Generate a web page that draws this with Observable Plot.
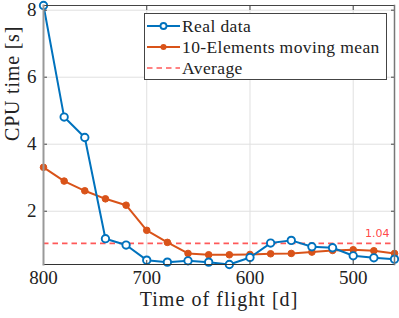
<!DOCTYPE html>
<html><head><meta charset="utf-8">
<script src="https://cdn.jsdelivr.net/npm/d3@7"></script>
<script src="https://cdn.jsdelivr.net/npm/@observablehq/plot@0.6"></script>
<style>
body{margin:0;background:#fff;}
#wrap{position:relative;width:399px;height:318px;font-family:"Liberation Serif",serif;}
#legend{position:absolute;left:144px;top:13px;width:243px;height:67px;border:1px solid #444;background:#fff;box-sizing:border-box;font-size:17.5px;letter-spacing:0.4px;color:#222;}
.row{position:absolute;left:1px;height:20px;display:flex;align-items:center;white-space:nowrap;}
.row svg{margin-right:1px;}
</style></head><body>
<div id="wrap"></div>
<script>
const flight = [800,780,760,740,720,700,680,660,640,620,600,580,560,540,520,500,480,460];
const realData = [8.14,4.81,4.20,1.18,0.99,0.54,0.48,0.52,0.48,0.41,0.62,1.05,1.13,0.94,0.91,0.67,0.61,0.57];
const movMean = [3.31,2.90,2.61,2.37,2.18,1.43,1.07,0.74,0.70,0.70,0.71,0.73,0.74,0.78,0.83,0.85,0.82,0.74];
const average = 1.04;
const xTicks = [800,700,600,500];
const yTicks = [2,4,6,8];
const seriesNames = ["Real data","10-Elements moving mean","Average"];
const xLabel = "Time of flight [d]";
const yLabel = "CPU time [s]";

const blue="#0072BD", orange="#D95319", red="#FF3030";
const rows = flight.map((f,i)=>({f, r:realData[i], m:movMean[i]}));
const font = "Liberation Serif, serif";

const chart = Plot.plot({
  width:399, height:318,
  marginLeft:43, marginRight:5, marginTop:5, marginBottom:54,
  style:{fontFamily:font, fontSize:"19px", color:"#222", background:"#fff"},
  x:{domain:[800,460], ticks:xTicks, label:null},
  y:{domain:[0.41,8.14], ticks:yTicks, label:null},
  marks:[
    Plot.gridX(xTicks,{stroke:"#e0e0e0", strokeOpacity:1}),
    Plot.gridY(yTicks,{stroke:"#e0e0e0", strokeOpacity:1}),
    Plot.ruleY([average],{stroke:red, strokeWidth:1.6, strokeDasharray:"5.5,4", strokeOpacity:0.8}),
    Plot.text([average],{x:()=>460, y:d=>d, text:d=>d.toFixed(2), textAnchor:"end", dx:-5, dy:-10, fill:red, fillOpacity:0.9, fontFamily:"DejaVu Sans, sans-serif", fontSize:11}),
    Plot.line(rows,{x:"f", y:"m", stroke:orange, strokeWidth:2}),
    Plot.dot(rows,{x:"f", y:"m", fill:orange, r:3.3, stroke:orange, strokeWidth:1}),
    Plot.line(rows,{x:"f", y:"r", stroke:blue, strokeWidth:2}),
    Plot.dot(rows,{x:"f", y:"r", fill:"#fff", r:3.7, stroke:blue, strokeWidth:1.9}),
    Plot.axisX(xTicks,{anchor:"bottom", tickSize:0, tickPadding:6, fontSize:19, fill:"#222", label:null}),
    Plot.axisY(yTicks,{anchor:"left", tickSize:0, tickPadding:7, fontSize:19, fill:"#222", label:null}),
    Plot.axisX(xTicks,{anchor:"bottom", tickSize:-4, tickFormat:()=>"", stroke:"#444", label:null}),
    Plot.axisX(xTicks,{anchor:"top", tickSize:-4, tickFormat:()=>"", stroke:"#444", label:null}),
    Plot.axisY(yTicks,{anchor:"left", tickSize:-4, tickFormat:()=>"", stroke:"#444", label:null}),
    Plot.axisY(yTicks,{anchor:"right", tickSize:-4, tickFormat:()=>"", stroke:"#444", label:null}),
    Plot.frame({anchor:"top", stroke:"#444", strokeWidth:1}),
    Plot.frame({anchor:"bottom", stroke:"#333", strokeWidth:1.2}),
    Plot.frame({anchor:"left", stroke:"#999", strokeWidth:2}),
    Plot.frame({anchor:"right", stroke:"#777", strokeWidth:1.5}),
    Plot.text([xLabel],{frameAnchor:"bottom", text:d=>d, lineAnchor:"bottom", dy:41, fontSize:20, fill:"#222"}),
    Plot.text([yLabel],{frameAnchor:"left", text:d=>d, rotate:-90, lineAnchor:"middle", dx:-31, dy:6, fontSize:20, fill:"#222"})
  ]
});
const wrap = document.getElementById("wrap");
wrap.appendChild(chart);
d3.select(chart).selectAll("text").filter(function(){return this.textContent===xLabel;}).style("letter-spacing","1.05px");
d3.select(chart).selectAll("text").filter(function(){return this.textContent===yLabel;}).style("letter-spacing","0.8px");

const leg = document.createElement("div");
leg.id="legend";
const sw = [
  `<svg width="35" height="12"><line x1="1" y1="6" x2="34" y2="6" stroke="${blue}" stroke-width="2"/><circle cx="17.5" cy="6" r="3" fill="#fff" stroke="${blue}" stroke-width="1.8"/></svg>`,
  `<svg width="35" height="12"><line x1="1" y1="6" x2="34" y2="6" stroke="${orange}" stroke-width="2"/><circle cx="17.5" cy="6" r="3" fill="${orange}"/></svg>`,
  `<svg width="35" height="12"><line x1="1" y1="6" x2="34" y2="6" stroke="${red}" stroke-opacity="0.8" stroke-width="1.6" stroke-dasharray="5.5,4"/></svg>`
];
seriesNames.forEach((n,i)=>{
  const r=document.createElement("div");r.className="row";r.style.top=(2+i*21)+"px";
  r.innerHTML=sw[i]+`<span>${n}</span>`;leg.appendChild(r);
});
wrap.appendChild(leg);
</script>
</body></html>
